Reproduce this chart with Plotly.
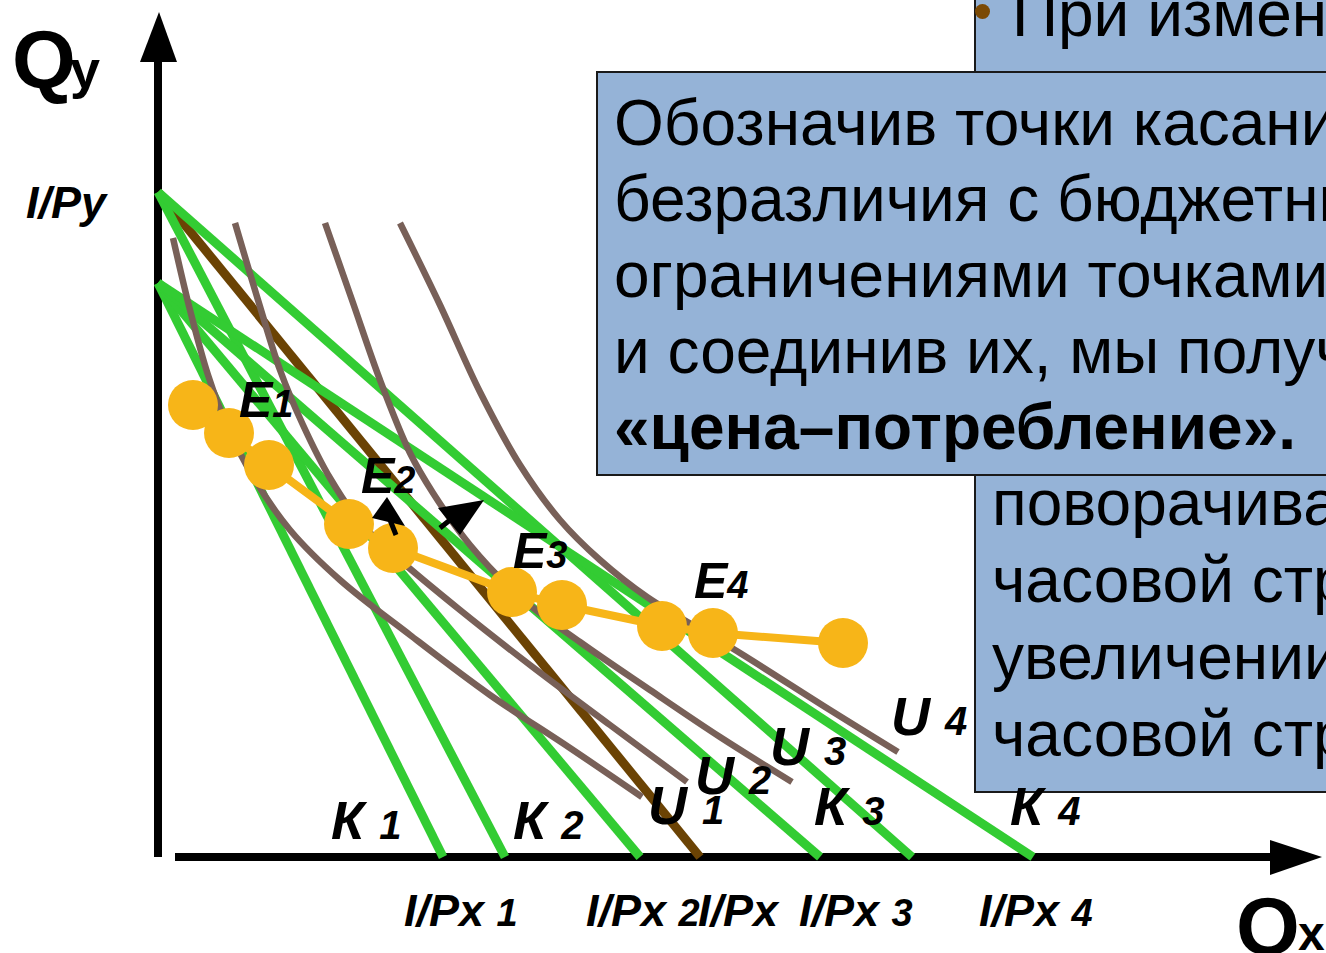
import plotly.graph_objects as go

# ---------------- data (chart units, origin at the axes corner) ----------------
# budget lines: Qy intercept -> Qx intercept
green_qy = [574, 665, 574, 574, 665, 574]
green_qx = [285, 347, 482, 662, 754, 875]
brown_qy = [665]
brown_qx = [542]

# indifference curves U1..U4
u1_x = [15, 32, 50, 70, 97, 132, 182, 252, 332, 412, 484]
u1_y = [619, 547, 482, 429, 377, 327, 277, 222, 162, 109, 60]
u2_x = [77, 100, 122, 145, 172, 202, 242, 302, 372, 452, 529]
u2_y = [634, 557, 487, 432, 379, 335, 297, 247, 192, 132, 75]
u3_x = [167, 194, 222, 252, 275, 312, 362, 422, 492, 562, 634]
u3_y = [634, 557, 477, 404, 364, 312, 260, 215, 167, 120, 75]
u4_x = [242, 282, 322, 362, 402, 442, 489, 582, 672, 740]
u4_y = [634, 552, 465, 392, 337, 297, 260, 204, 147, 105]
u_curves = [(u1_x, u1_y), (u2_x, u2_y), (u3_x, u3_y), (u4_x, u4_y)]

# price-consumption points
pc_x = [35, 71, 111, 191, 235, 354, 404, 504, 555, 685]
pc_y = [452, 424, 392, 333, 309, 265, 252, 231, 224, 214]

# tick labels under the Qx axis
qx_tick_text = ["I/Px 1", "I/Px 2", "I/Px", "I/Px 3", "I/Px 4"]
qy_tick_text = "I/Py"
k_labels = ["К 1", "К 2", "К 3", "К 4"]
u_labels = ["U 1", "U 2", "U 3", "U 4"]
e_labels = ["E1", "E2", "E3", "E4"]

box_front_lines = [
    "Обозначив точки касания кривых",
    "безразличия с бюджетными",
    "ограничениями точками Е",
    "и соединив их, мы получим кривую",
]
box_front_bold = "«цена–потребление»."
box_back_top = "При изменении цены"
box_back_lines = ["поворачивается", "часовой стрелке", "увеличении цены", "часовой стрелки"]

# ---------------- styles ----------------
GREEN = "#33CC33"
BROWN = "#6B4304"
GRAY = "#786058"
ORANGE = "#F7B518"
BOXC = "#95B3D7"
FONT = "Liberation Sans, Arial, sans-serif"

W, H = 1326, 953
OX, OY = 158, 857  # pixel position of the origin


def X(px):
    return px - OX


def Y(py):
    return OY - py


fig = go.Figure()

for qy, qx in zip(brown_qy, brown_qx):
    fig.add_trace(go.Scatter(x=[0, qx], y=[qy, 0], mode="lines",
                             line=dict(color=BROWN, width=9), hoverinfo="skip"))
for qy, qx in zip(green_qy, green_qx):
    fig.add_trace(go.Scatter(x=[0, qx], y=[qy, 0], mode="lines",
                             line=dict(color=GREEN, width=9), hoverinfo="skip"))
for cx, cy in u_curves:
    fig.add_trace(go.Scatter(x=cx, y=cy, mode="lines",
                             line=dict(color=GRAY, width=6.5, shape="spline", smoothing=1.0),
                             hoverinfo="skip"))
fig.add_trace(go.Scatter(x=pc_x, y=pc_y, mode="lines+markers",
                         line=dict(color=ORANGE, width=8),
                         marker=dict(color=ORANGE, size=50, line=dict(width=0)),
                         hoverinfo="skip"))

shapes = []
# axes with arrows
shapes.append(dict(type="line", xref="x", yref="y", x0=0, y0=0, x1=0, y1=Y(62),
                   line=dict(color="black", width=8), layer="below"))
shapes.append(dict(type="path", xref="x", yref="y",
                   path=f"M {X(140)},{Y(62)} L {X(177)},{Y(62)} L {X(159)},{Y(12)} Z",
                   fillcolor="black", line=dict(width=0), layer="below"))
shapes.append(dict(type="line", xref="x", yref="y", x0=X(175), y0=0, x1=X(1272), y1=0,
                   line=dict(color="black", width=8), layer="below"))
shapes.append(dict(type="path", xref="x", yref="y",
                   path=f"M {X(1270)},{Y(840)} L {X(1270)},{Y(875)} L {X(1322)},{Y(857)} Z",
                   fillcolor="black", line=dict(width=0), layer="below"))
# small rotation arrows near E2
shapes.append(dict(type="path", xref="x", yref="y",
                   path=f"M {X(372)},{Y(518)} L {X(405)},{Y(526)} L {X(387)},{Y(497)} Z",
                   fillcolor="black", line=dict(width=0), layer="above"))
shapes.append(dict(type="line", xref="x", yref="y", x0=X(390), y0=Y(520), x1=X(396), y1=Y(535),
                   line=dict(color="black", width=5), layer="above"))
shapes.append(dict(type="path", xref="x", yref="y",
                   path=f"M {X(438)},{Y(508)} L {X(460)},{Y(535)} L {X(484)},{Y(500)} Z",
                   fillcolor="black", line=dict(width=0), layer="above"))
shapes.append(dict(type="line", xref="x", yref="y", x0=X(450), y0=Y(520), x1=X(440), y1=Y(528),
                   line=dict(color="black", width=5), layer="above"))

# text boxes (back box first, then front box)
shapes.append(dict(type="rect", xref="x", yref="y", x0=X(975), y0=Y(-20), x1=X(1400), y1=Y(792),
                   fillcolor=BOXC, line=dict(color="#1a1a1a", width=2), layer="above"))
shapes.append(dict(type="circle", xref="x", yref="y", x0=X(975), y0=Y(4), x1=X(990), y1=Y(19),
                   fillcolor="#7B4A05", line=dict(width=0), layer="above"))
shapes.append(dict(type="rect", xref="x", yref="y", x0=X(597), y0=Y(72), x1=X(1400), y1=Y(475),
                   fillcolor=BOXC, line=dict(color="#1a1a1a", width=2), layer="above"))

ann = []


def label(text, left, baseline, size, bold=True, italic=True, color="black"):
    t = text
    if italic:
        t = f"<i>{t}</i>"
    if bold:
        t = f"<b>{t}</b>"
    ann.append(dict(x=X(left), y=Y(baseline - 0.35 * size), xref="x", yref="y",
                    text=t, showarrow=False, xanchor="left", yanchor="middle",
                    font=dict(family=FONT, size=size, color=color)))


def small(d, size):
    return f"<span style='font-size:{size}px'>{d}</span>"


# axis titles
label("Q", 10, 88, 82, italic=False)
label("y", 68, 88, 54, italic=False)
label("Q", 1234, 955, 82, italic=False)
label("x", 1296, 950, 48, italic=False)
label(qy_tick_text, 24, 218, 45)

# Qx tick labels
qx_left = [402, 584, 696, 797, 977]
for t, lft in zip(qx_tick_text, qx_left):
    parts = t.split(" ")
    txt = parts[0] + (" " + small(parts[1], 38) if len(parts) > 1 else "")
    label(txt, lft, 926, 45)

# budget line labels
k_pos = [(329, 839), (511, 839), (812, 825), (1008, 825)]
for t, (lft, bl) in zip(k_labels, k_pos):
    a, d = t.split(" ")
    label(a + " " + small(d, 40), lft, bl, 54)

# indifference curve labels
u_pos = [(646, 824), (693, 794), (768, 765), (889, 735)]
for t, (lft, bl) in zip(u_labels, u_pos):
    a, d = t.split(" ")
    label(a + " " + small(d, 40), lft, bl, 54)

# equilibrium labels
e_pos = [(237, 417), (359, 493), (511, 568), (692, 598)]
for t, (lft, bl) in zip(e_labels, e_pos):
    label(t[0] + small(t[1], 38), lft, bl, 50)

# box texts
label(box_back_top, 1010, 36, 64, bold=False, italic=False)
for i, t in enumerate(box_back_lines):
    label(t, 990, 525 + 77 * i, 64, bold=False, italic=False)
for i, t in enumerate(box_front_lines):
    label(t, 612, 145 + 76 * i, 64, bold=False, italic=False)
label(box_front_bold, 612, 449, 64, bold=True, italic=False)

fig.update_layout(
    width=W, height=H, autosize=False,
    margin=dict(l=0, r=0, t=0, b=0, pad=0),
    paper_bgcolor="white", plot_bgcolor="white",
    showlegend=False,
    xaxis=dict(range=[X(0), X(W)], visible=False, fixedrange=True),
    yaxis=dict(range=[Y(H), Y(0)], visible=False, fixedrange=True),
    shapes=shapes, annotations=ann,
)

fig.write_html("out.html", config={"displayModeBar": False})
